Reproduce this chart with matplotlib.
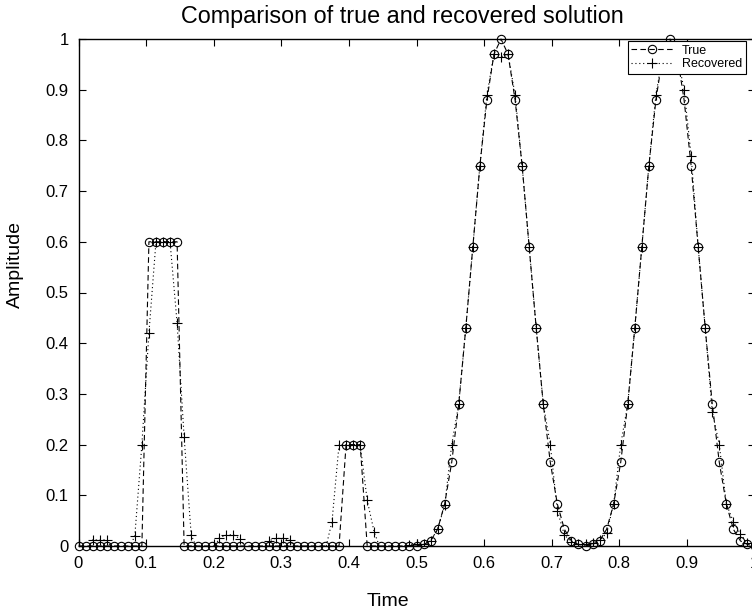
import matplotlib
matplotlib.use("Agg")
import matplotlib.pyplot as plt
import numpy as np

plt.rcParams['font.family'] = ['Liberation Sans', 'DejaVu Sans']

# sample grid (97 samples on [0, 1])
time = np.linspace(0, 1, 97)

true_vals = [0] * 10 + [0.6] * 5 + [0] * 23 + [0.2] * 3 + [0] * 8 + [
    0.003, 0.01, 0.033, 0.083, 0.165, 0.28, 0.43, 0.59, 0.75, 0.88, 0.97, 1.0,
    0.97, 0.88, 0.75, 0.59, 0.43, 0.28, 0.165, 0.083, 0.033, 0.01, 0.003, 0.0,
    0.003, 0.01, 0.033, 0.083, 0.165, 0.28, 0.43, 0.59, 0.75, 0.88, 0.97, 1.0,
    0.97, 0.88, 0.75, 0.59, 0.43, 0.28, 0.165, 0.083, 0.033, 0.01, 0.003, 0.0]

# slightly negative values fall below the axis and are clipped away
recovered_vals = [
    -0.01, -0.01, 0.012, 0.012, 0.012, -0.01, -0.01, -0.01, 0.02, 0.2,
    0.42, 0.6, 0.6, 0.6, 0.44, 0.215, 0.022, -0.01, -0.01, -0.01,
    0.016, 0.022, 0.022, 0.014, -0.01, -0.01, -0.01, 0.01, 0.015, 0.015,
    0.012, -0.01, -0.01, -0.01, -0.01, -0.01, 0.048, 0.2, 0.2, 0.2,
    0.2, 0.09, 0.027, -0.01, -0.01, -0.01, -0.01, 0.002, 0.003,
    0.003, 0.01, 0.033, 0.08, 0.2, 0.28, 0.43, 0.59, 0.75, 0.89, 0.97, 0.965,
    0.97, 0.89, 0.75, 0.59, 0.43, 0.28, 0.2, 0.07, 0.022, 0.008, 0.003, 0.003,
    0.006, 0.012, 0.025, 0.083, 0.2, 0.28, 0.43, 0.59, 0.75, 0.89, 0.97, 0.965,
    0.97, 0.9, 0.77, 0.59, 0.43, 0.265, 0.2, 0.083, 0.048, 0.024, 0.005, -0.01]

tick_vals = [0, 0.1, 0.2, 0.3, 0.4, 0.5, 0.6, 0.7, 0.8, 0.9, 1]
tick_labels = ['0', '0.1', '0.2', '0.3', '0.4', '0.5', '0.6', '0.7', '0.8', '0.9', '1']

W, H = 752, 615
fig = plt.figure(figsize=(W / 100, H / 100), dpi=100)
ax = fig.add_axes([78.5 / W, (H - 546) / H, 676 / W, 507 / H])

ax.plot(time, true_vals, color='k', linestyle=(0, (5, 3)), linewidth=0.8,
        marker='o', markersize=6, markerfacecolor='none', markeredgewidth=0.8,
        label='True', clip_on=False, zorder=3)
ax.plot(time, recovered_vals, color='k', linestyle=(0, (1, 2.5)), linewidth=0.8,
        marker='+', markersize=7, markeredgewidth=0.8,
        label='Recovered', zorder=4)

ax.set_xlim(0, 1)
ax.set_ylim(0, 1)
ax.set_xticks(tick_vals)
ax.set_xticklabels(tick_labels)
ax.set_yticks(tick_vals)
ax.set_yticklabels(tick_labels)
ax.tick_params(direction='in', length=5, width=0.8, top=True, right=True,
               labelsize=12, pad=7)
for s in ax.spines.values():
    s.set_linewidth(1.0)

fig.text(402.5 / W, (H - 23) / H, 'Comparison of true and recovered solution',
         ha='center', va='baseline', fontsize=16.8)
fig.text(387.5 / W, (H - 606) / H, 'Time', ha='center', va='baseline', fontsize=14)
fig.text(15 / W, (H - 265) / H, 'Amplitude', ha='center', va='center',
         rotation=90, fontsize=14)

leg = ax.legend(loc='upper right', bbox_to_anchor=(746 / W, (H - 41) / H),
                bbox_transform=fig.transFigure, borderaxespad=0, fontsize=9,
                handlelength=3.3, handletextpad=0.75, labelspacing=0.1,
                borderpad=0.3, fancybox=False, framealpha=1, edgecolor='k',
                numpoints=1)
leg.get_frame().set_linewidth(0.8)
leg.set_zorder(10)

fig.savefig('out.png', dpi=100)
